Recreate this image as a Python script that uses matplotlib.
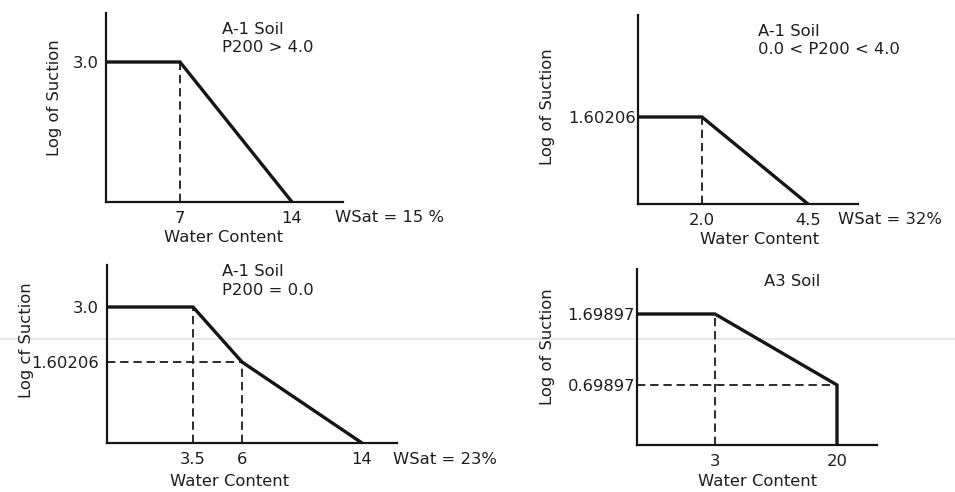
import numpy as np
import matplotlib
matplotlib.use("Agg")
import matplotlib.pyplot as plt
from matplotlib.lines import Line2D

# ---------------- data ----------------
# Panel 1: A-1 Soil, P200 > 4.0
p1_x = [0, 7, 14]
p1_y = [3.0, 3.0, 0.0]
p1_xticks = [7, 14]
p1_xticklabels = ["7", "14"]
p1_yticks = [3.0]
p1_yticklabels = ["3.0"]
p1_title = ["A-1 Soil", "P200 > 4.0"]
p1_wsat = "WSat = 15 %"

# Panel 2: A-1 Soil, 0.0 < P200 < 4.0
p2_x = [0, 2.0, 4.5]
p2_y = [1.60206, 1.60206, 0.0]
p2_xticks = [2.0, 4.5]
p2_xticklabels = ["2.0", "4.5"]
p2_yticks = [1.60206]
p2_yticklabels = ["1.60206"]
p2_title = ["A-1 Soil", "0.0 < P200 < 4.0"]
p2_wsat = "WSat = 32%"

# Panel 3: A-1 Soil, P200 = 0.0
p3_x = [0, 3.5, 6, 14]
p3_y = [3.0, 3.0, 1.60206, 0.0]
p3_xticks = [3.5, 6, 14]
p3_xticklabels = ["3.5", "6", "14"]
p3_yticks = [1.60206, 3.0]
p3_yticklabels = ["1.60206", "3.0"]
p3_title = ["A-1 Soil", "P200 = 0.0"]
p3_wsat = "WSat = 23%"

# Panel 4: A3 Soil
p4_x = [0, 3, 20, 20]
p4_y = [1.69897, 1.69897, 0.69897, 0.0]
p4_xticks = [3, 20]
p4_xticklabels = ["3", "20"]
p4_yticks = [0.69897, 1.69897]
p4_yticklabels = ["0.69897", "1.69897"]
p4_title = ["A3 Soil"]
p4_wsat = None

# ---------------- layout (pixels, schematic axes not to scale) ----------------
W, H = 955, 492
FS = 11.8
TXT = "#1e1e1e"

plt.rcParams["font.family"] = ["DejaVu Sans"]
plt.rcParams["lines.scale_dashes"] = False

fig = plt.figure(figsize=(W / 100, H / 100), dpi=100)
fig.patch.set_facecolor("white")

# faint scan line across the page
fig.add_artist(Line2D([0, 1], [1 - 339 / H, 1 - 339 / H], transform=fig.transFigure,
                      color="#e4e4e4", lw=1.2, zorder=0))

panels = [
    dict(x=p1_x, y=p1_y, xt=p1_xticks, xtl=p1_xticklabels, yt=p1_yticks, ytl=p1_yticklabels,
         title=p1_title, wsat=p1_wsat, ylabel="Log of Suction",
         box=(106, 343, 13, 202),
         xk_data=[0, 7, 14, 17.2], xk_px=[106, 180, 292, 343],
         yk_data=[0, 3.0, 4.0], yk_px=[202, 62, 13],
         ypad=5.5, title_pos=(222, 29), title_ha="left",
         ylab_pos=(55, 98), xlab_pos=(224, 237), wsat_pos=(335, 218),
         dashes=[("v", 7, 0, 3.0)]),
    dict(x=p2_x, y=p2_y, xt=p2_xticks, xtl=p2_xticklabels, yt=p2_yticks, ytl=p2_yticklabels,
         title=p2_title, wsat=p2_wsat, ylabel="Log of Suction",
         box=(638, 858, 15, 204),
         xk_data=[0, 2.0, 4.5, 5.7], xk_px=[638, 702, 808, 858],
         yk_data=[0, 1.60206, 3.5], yk_px=[204, 117, 15],
         ypad=1.5, title_pos=(758, 31), title_ha="left",
         ylab_pos=(547, 107), xlab_pos=(760, 239), wsat_pos=(838, 220),
         dashes=[("v", 2.0, 0, 1.60206)]),
    dict(x=p3_x, y=p3_y, xt=p3_xticks, xtl=p3_xticklabels, yt=p3_yticks, ytl=p3_yticklabels,
         title=p3_title, wsat=p3_wsat, ylabel="Log cf Suction",
         box=(107, 397, 265, 443),
         xk_data=[0, 3.5, 6, 14, 16.5], xk_px=[107, 193, 242, 362, 397],
         yk_data=[0, 1.60206, 3.0, 4.0], yk_px=[443, 362, 307, 265],
         ypad=6.0, title_pos=(222, 272), title_ha="left",
         ylab_pos=(27, 340), xlab_pos=(230, 482), wsat_pos=(393, 460),
         dashes=[("h", 1.60206, 0, 6), ("v", 3.5, 0, 3.0), ("v", 6, 0, 1.60206)]),
    dict(x=p4_x, y=p4_y, xt=p4_xticks, xtl=p4_xticklabels, yt=p4_yticks, ytl=p4_yticklabels,
         title=p4_title, wsat=p4_wsat, ylabel="Log of Suction",
         box=(637, 877, 269, 445),
         xk_data=[0, 3, 20, 23], xk_px=[637, 715, 837, 877],
         yk_data=[0, 0.69897, 1.69897, 2.4], yk_px=[445, 385, 314, 269],
         ypad=1.5, title_pos=(792, 281), title_ha="center",
         ylab_pos=(547, 347), xlab_pos=(758, 482), wsat_pos=None,
         dashes=[("h", 0.69897, 0, 20), ("v", 3, 0, 1.69897)]),
]


def make_scale(data_knots, px_knots):
    lo, hi = px_knots[0], px_knots[-1]
    frac = [(p - lo) / (hi - lo) for p in px_knots]
    d = np.asarray(data_knots, float)
    f = np.asarray(frac, float)

    def fwd(v):
        v = np.asarray(v, float)
        out = np.interp(v, d, f)
        s0 = (f[1] - f[0]) / (d[1] - d[0])
        s1 = (f[-1] - f[-2]) / (d[-1] - d[-2])
        out = np.where(v < d[0], f[0] + (v - d[0]) * s0, out)
        out = np.where(v > d[-1], f[-1] + (v - d[-1]) * s1, out)
        return out

    def inv(u):
        u = np.asarray(u, float)
        out = np.interp(u, f, d)
        s0 = (d[1] - d[0]) / (f[1] - f[0])
        s1 = (d[-1] - d[-2]) / (f[-1] - f[-2])
        out = np.where(u < f[0], d[0] + (u - f[0]) * s0, out)
        out = np.where(u > f[-1], d[-1] + (u - f[-1]) * s1, out)
        return out

    return fwd, inv


def fpx(px, py):
    return px / W, 1 - py / H


for p in panels:
    l, r, t, b = p["box"]
    ax = fig.add_axes([l / W, 1 - b / H, (r - l) / W, (b - t) / H])
    ax.patch.set_alpha(0)

    xf, xi = make_scale(p["xk_data"], p["xk_px"])
    ax.set_xscale("function", functions=(xf, xi))
    ax.set_xlim(p["xk_data"][0], p["xk_data"][-1])
    ypx = [b - yy for yy in p["yk_px"]]
    yf, yi = make_scale(p["yk_data"], ypx)
    ax.set_yscale("function", functions=(yf, yi))
    ax.set_ylim(p["yk_data"][0], p["yk_data"][-1])

    for s in ["top", "right"]:
        ax.spines[s].set_visible(False)
    for s in ["left", "bottom"]:
        ax.spines[s].set_linewidth(1.6)
        ax.spines[s].set_color("#151515")

    ax.plot(p["x"], p["y"], color="#151515", lw=2.4, solid_joinstyle="miter",
            solid_capstyle="butt", zorder=3, clip_on=False)

    for kind, v, a, bnd in p["dashes"]:
        if kind == "v":
            ax.plot([v, v], [a, bnd], color="#1a1a1a", lw=1.3, dashes=(6, 3.5), zorder=2)
        else:
            ax.plot([a, bnd], [v, v], color="#1a1a1a", lw=1.3, dashes=(6, 3.5), zorder=2)

    ax.set_xticks(p["xt"])
    ax.set_xticklabels(p["xtl"])
    ax.set_yticks(p["yt"])
    ax.set_yticklabels(p["ytl"])
    ax.minorticks_off()
    ax.tick_params(axis="x", length=0, pad=6.5, labelsize=FS, labelcolor=TXT)
    ax.tick_params(axis="y", length=0, pad=p["ypad"], labelsize=FS, labelcolor=TXT)

    fx, fy = fpx(*p["xlab_pos"])
    fig.text(fx, fy, "Water Content", ha="center", va="center", fontsize=FS, color=TXT)
    fx, fy = fpx(*p["ylab_pos"])
    fig.text(fx, fy, p["ylabel"], ha="center", va="center", rotation=90, fontsize=FS, color=TXT)

    tx, ty = p["title_pos"]
    for i, line in enumerate(p["title"]):
        fx, fy = fpx(tx, ty + 18.5 * i)
        fig.text(fx, fy, line, ha=p["title_ha"], va="center", fontsize=FS, color=TXT)

    if p["wsat"]:
        fx, fy = fpx(*p["wsat_pos"])
        fig.text(fx, fy, p["wsat"], ha="left", va="center", fontsize=FS, color=TXT)

fig.savefig("out.png", dpi=100, facecolor="white")
